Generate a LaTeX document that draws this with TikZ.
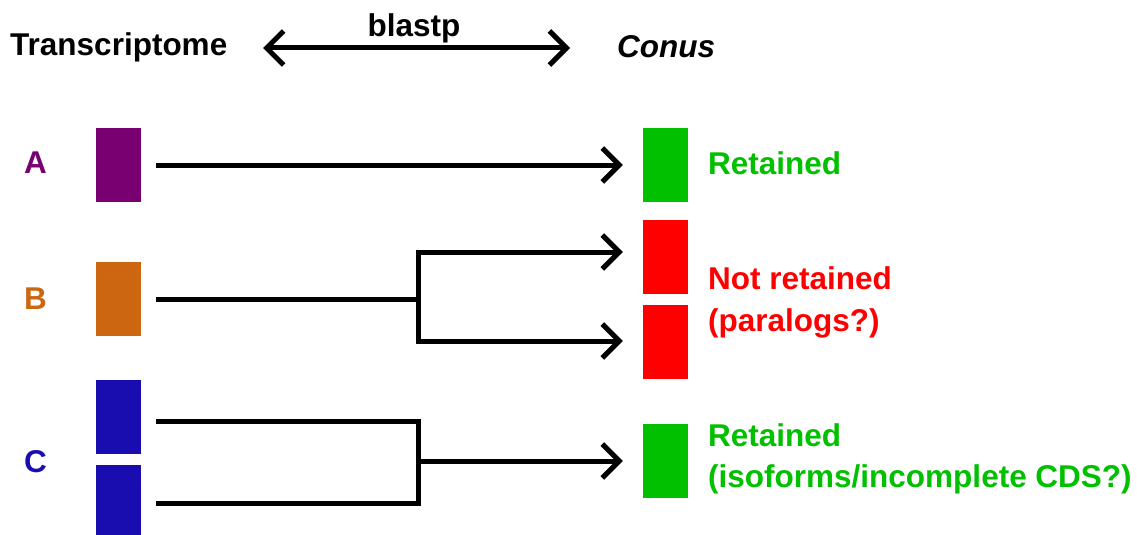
\documentclass[tikz,border=0pt]{standalone}
\usepackage{fontspec}
\setmainfont{Liberation Sans}
\usetikzlibrary{arrows.meta}

\definecolor{cpurple}{HTML}{780070}
\definecolor{corange}{HTML}{CC6611}
\definecolor{cblue}{HTML}{1A0DB0}
\definecolor{cgreen}{HTML}{00C000}
\definecolor{cred}{HTML}{FF0000}

\tikzset{
  seqbox/.style={fill=#1, draw=none, inner sep=0pt, minimum width=45pt, minimum height=74pt},
  lbl/.style={font=\fontsize{31.5}{31.5}\selectfont\bfseries, inner sep=0pt, anchor=base west},
  wire/.style={line width=5pt, black},
  barb/.tip={Straight Barb[length=17pt,width=34pt]},
  arr/.style={wire, -{barb}, shorten >=20pt},
}

\begin{document}
\begin{tikzpicture}[x=1pt,y=-1pt]
\useasboundingbox (0,0) rectangle (1137,535);

% header
\node[lbl] (ttl) at (10,56) {Transcriptome};
\node[lbl] (con) at (617,58) {\itshape Conus};
\coordinate (bl) at (263,48);
\coordinate (br) at (570,48);
\draw[wire, {barb}-{barb}] (bl) -- (br);
\node[lbl, anchor=base] (bp) at (414,37) {blastp};

% row labels
\node[lbl, text=cpurple] (la) at (24,173) {A};
\node[lbl, text=corange] (lb) at (24,309) {B};
\node[lbl, text=cblue] (lc) at (24,472) {C};

% transcriptome sequences
\node[seqbox=cpurple] (pA) at (118.5,165) {};
\node[seqbox=corange] (pB) at (118.5,299) {};
\node[seqbox=cblue] (pC1) at (118.5,417) {};
\node[seqbox=cblue] (pC2) at (118.5,502) {};

% Conus sequences
\node[seqbox=cgreen] (gA) at (665.5,165) {};
\node[seqbox=cred] (r1) at (665.5,256.5) {};
\node[seqbox=cred] (r2) at (665.5,342) {};
\node[seqbox=cgreen] (gC) at (665.5,460.5) {};

% outcome labels
\node[lbl, text=cgreen] (ta) at (708,174) {Retained};
\node[lbl, text=cred] (tb1) at (708,289) {Not retained};
\node[lbl, text=cred] (tb2) at (708,331) {(paralogs?)};
\node[lbl, text=cgreen] (tc1) at (708,446) {Retained};
\node[lbl, text=cgreen] (tc2) at (708,487) {(isoforms/incomplete CDS?)};

% case A: one-to-one hit
\draw[arr, shorten <=15pt] (pA.east) -- (gA.west);

% case B: one query, two hits
\coordinate (jB) at (418,299);
\coordinate (bT) at (418,252);
\coordinate (bB) at (418,341);
\draw[wire, shorten <=15pt] (pB.east) -- (jB);
\draw[arr] (bB) -- (bT) -- (bT -| r1.west);
\draw[arr] (bT) -- (bB) -- (bB -| r2.west);

% case C: two queries, one hit
\coordinate (cT) at (418,421);
\coordinate (cB) at (418,503);
\coordinate (jC) at (418,461);
\draw[wire, shorten <=15pt, shorten >=15pt] (pC1.east |- cT) -- (cT) -- (cB) -- (pC2.east |- cB);
\draw[arr] (jC) -- (jC -| gC.west);
\end{tikzpicture}
\end{document}
